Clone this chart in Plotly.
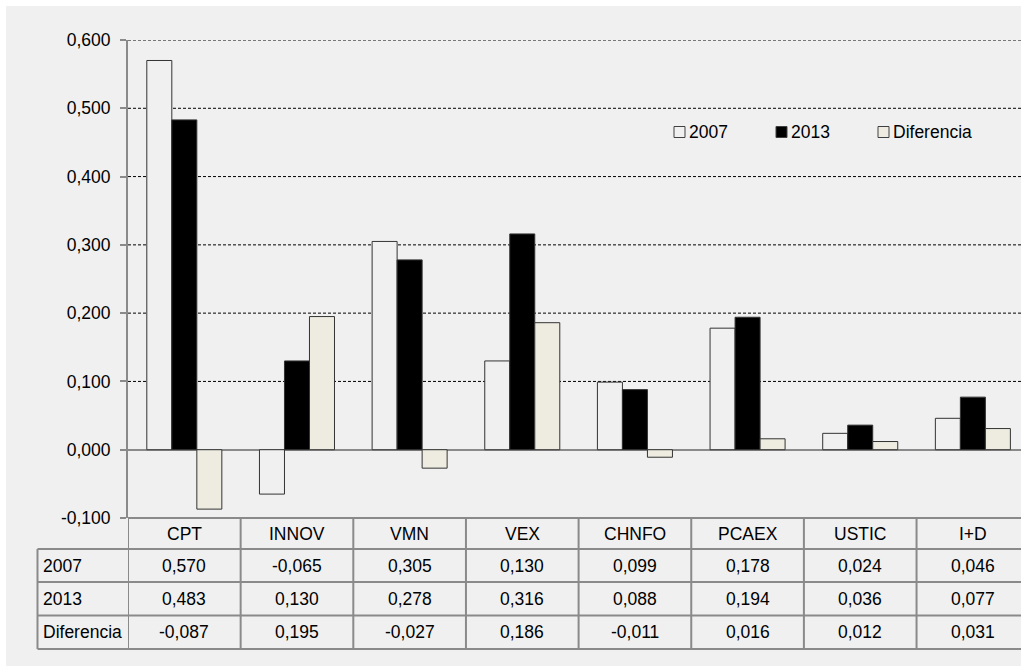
import plotly.graph_objects as go

categories = ["CPT", "INNOV", "VMN", "VEX", "CHNFO", "PCAEX", "USTIC", "I+D"]
series_names = ["2007", "2013", "Diferencia"]
v2007 = [0.570, -0.065, 0.305, 0.130, 0.099, 0.178, 0.024, 0.046]
v2013 = [0.483, 0.130, 0.278, 0.316, 0.088, 0.194, 0.036, 0.077]
vdif = [-0.087, 0.195, -0.027, 0.186, -0.011, 0.016, 0.012, 0.031]
y_ticks = [-0.1, 0.0, 0.1, 0.2, 0.3, 0.4, 0.5, 0.6]

series_values = [v2007, v2013, vdif]
fills = ["#F0F0F0", "#000000", "#EEECE1"]

W, H = 1021, 666
ML, MR, MT, MB = 128, 0, 40, 148
PW, PH = W - ML - MR, H - MT - MB
COL_PX = 112.65  # category width in pixels (plot extends beyond the visible edge)
x_max = -0.5 + PW / COL_PX

FONT = "Liberation Sans, Arial, sans-serif"
FS = 17.5
GRID = "#8a8a8a"


def px_x(px):
    return (px - ML) / PW


def px_y(py):
    return (H - MB - py) / PH


def fmt(v):
    return f"{v:.3f}".replace(".", ",")


fig = go.Figure()
for name, vals, col in zip(series_names, series_values, fills):
    fig.add_trace(go.Bar(
        x=categories, y=vals, name=name, showlegend=False,
        marker=dict(color=col, line=dict(color="#333333", width=1)),
    ))

shapes = []
# gray panel
shapes.append(dict(type="rect", xref="paper", yref="paper", layer="below",
                   x0=px_x(6), x1=px_x(W + 5), y0=px_y(H + 5), y1=px_y(6),
                   fillcolor="#F0F0F0", line=dict(width=0)))
# dotted gridlines for positive ticks
for t in y_ticks:
    if t > 0:
        shapes.append(dict(type="line", xref="paper", yref="y", layer="below",
                           x0=0, x1=1, y0=t, y1=t,
                           line=dict(color="#000000", width=1, dash="3px,2px")))

# data table geometry (pixels)
header_top, header_bot = 518, 549
row_bounds = [549, 582, 615.5, 649]
label_left = 37.5

shapes.append(dict(type="line", xref="paper", yref="paper", layer="above",
                   x0=0, x1=1.02, y0=px_y(header_top), y1=px_y(header_top),
                   line=dict(color=GRID, width=2)))
for yb in row_bounds:
    shapes.append(dict(type="line", xref="paper", yref="paper", layer="above",
                       x0=px_x(label_left), x1=1.02, y0=px_y(yb), y1=px_y(yb),
                       line=dict(color=GRID, width=2)))
shapes.append(dict(type="line", xref="paper", yref="paper", layer="above",
                   x0=px_x(label_left), x1=px_x(label_left),
                   y0=px_y(row_bounds[0]), y1=px_y(row_bounds[-1]),
                   line=dict(color=GRID, width=2)))
for i in range(len(categories) + 1):
    shapes.append(dict(type="line", xref="x", yref="paper", layer="above",
                       x0=i - 0.5, x1=i - 0.5,
                       y0=px_y(row_bounds[-1]), y1=px_y(header_top),
                       line=dict(color=GRID, width=2)))

annotations = []
tf = dict(family=FONT, size=FS, color="#000000")
hc = (header_top + header_bot) / 2
for i, c in enumerate(categories):
    annotations.append(dict(x=i, y=px_y(hc), xref="x", yref="paper", text=c,
                            showarrow=False, font=tf, xanchor="center", yanchor="middle"))
for r, (name, vals) in enumerate(zip(series_names, series_values)):
    yc = (row_bounds[r] + row_bounds[r + 1]) / 2
    annotations.append(dict(x=px_x(label_left + 3), y=px_y(yc), xref="paper", yref="paper",
                            text=name, showarrow=False, font=tf,
                            xanchor="left", yanchor="middle"))
    for i, v in enumerate(vals):
        annotations.append(dict(x=i, y=px_y(yc), xref="x", yref="paper", text=fmt(v),
                                showarrow=False, font=tf, xanchor="center", yanchor="middle"))

# manual legend
leg_box_x = [674, 776, 878]
leg_y = 132
box = 11
for name, col, bx in zip(series_names, fills, leg_box_x):
    shapes.append(dict(type="rect", xref="paper", yref="paper", layer="above",
                       x0=px_x(bx), x1=px_x(bx + box),
                       y0=px_y(leg_y + box / 2), y1=px_y(leg_y - box / 2),
                       fillcolor=col, line=dict(color="#404040", width=1)))
    annotations.append(dict(x=px_x(bx + box + 2), y=px_y(leg_y), xref="paper", yref="paper",
                            text=name, showarrow=False, font=tf,
                            xanchor="left", yanchor="middle"))

fig.update_layout(
    width=W, height=H,
    margin=dict(l=ML, r=MR, t=MT, b=MB, pad=0),
    paper_bgcolor="#FFFFFF", plot_bgcolor="rgba(0,0,0,0)",
    barmode="group", bargap=0.334, bargroupgap=0,
    font=dict(family=FONT, size=FS, color="#000000"),
    shapes=shapes, annotations=annotations,
    xaxis=dict(range=[-0.5, x_max], showticklabels=False, showgrid=False,
               zeroline=False, showline=False, ticks=""),
    yaxis=dict(range=[-0.1, 0.6], tickvals=y_ticks, ticktext=[fmt(t) for t in y_ticks],
               showgrid=False,
               zeroline=True, zerolinecolor=GRID, zerolinewidth=2,
               showline=True, linecolor=GRID, linewidth=2,
               ticks="outside", ticklen=6, tickcolor=GRID, tickwidth=1.5,
               ticklabelstandoff=6,
               tickfont=dict(family=FONT, size=FS, color="#000000")),
)

fig.write_html("out.html")
